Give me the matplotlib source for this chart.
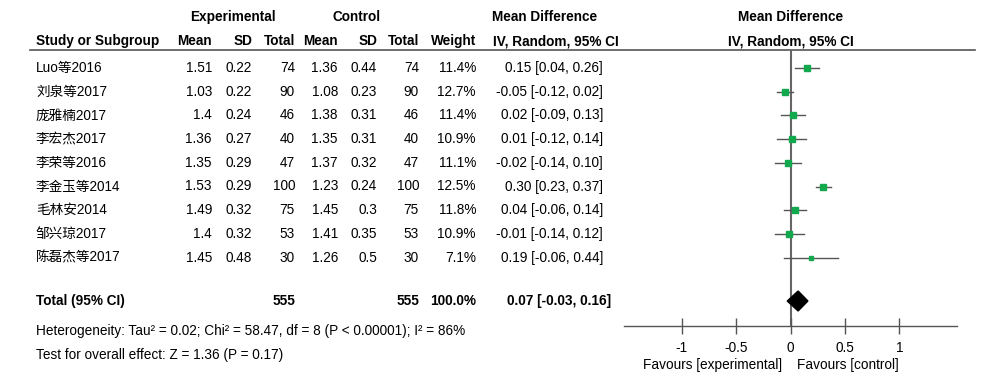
import matplotlib
matplotlib.use("Agg")
import matplotlib.pyplot as plt

plt.rcParams['font.family'] = ['Liberation Sans', 'Noto Sans CJK SC']
plt.rcParams['font.size'] = 9.8

# data
studies = ['Luo等2016', '刘泉等2017', '庞雅楠2017', '李宏杰2017', '李荣等2016',
           '李金玉等2014', '毛林安2014', '邹兴琼2017', '陈磊杰等2017']
exp_mean = ['1.51', '1.03', '1.4', '1.36', '1.35', '1.53', '1.49', '1.4', '1.45']
exp_sd = ['0.22', '0.22', '0.24', '0.27', '0.29', '0.29', '0.32', '0.32', '0.48']
exp_n = [74, 90, 46, 40, 47, 100, 75, 53, 30]
ctl_mean = ['1.36', '1.08', '1.38', '1.35', '1.37', '1.23', '1.45', '1.41', '1.26']
ctl_sd = ['0.44', '0.23', '0.31', '0.31', '0.32', '0.24', '0.3', '0.35', '0.5']
ctl_n = [74, 90, 46, 40, 47, 100, 75, 53, 30]
weight = [11.4, 12.7, 11.4, 10.9, 11.1, 12.5, 11.8, 10.9, 7.1]
md = [0.15, -0.05, 0.02, 0.01, -0.02, 0.30, 0.04, -0.01, 0.19]
lo = [0.04, -0.12, -0.09, -0.12, -0.14, 0.23, -0.06, -0.14, -0.06]
hi = [0.26, 0.02, 0.13, 0.14, 0.10, 0.37, 0.14, 0.12, 0.44]
total_n = [555, 555]
total_weight = '100.0%'
total_md, total_lo, total_hi = 0.07, -0.03, 0.16
ticks = [-1, -0.5, 0, 0.5, 1]

W, H = 1000, 378
fig = plt.figure(figsize=(10, 3.78), dpi=100)

# text layer in pixel coords
ax = fig.add_axes([0, 0, 1, 1])
ax.set_xlim(0, W)
ax.set_ylim(H, 0)
ax.axis('off')

row0, step = 68, 23.7
def ry(i):
    return row0 + step * i

bold = dict(fontweight='bold', va='center')
ax.text(233, 17, 'Experimental', ha='center', **bold)
ax.text(357, 17, 'Control', ha='center', **bold)
ax.text(545, 17, 'Mean Difference', ha='center', **bold)
ax.text(791, 17, 'Mean Difference', ha='center', **bold)

hy = 41
ax.text(36, hy, 'Study or Subgroup', ha='left', **bold)
cols = [212, 252, 295, 338, 377, 419, 476]
for x, s in zip(cols, ['Mean', 'SD', 'Total', 'Mean', 'SD', 'Total', 'Weight']):
    ax.text(x, hy, s, ha='right', **bold)
ax.text(493, hy, 'IV, Random, 95% CI', ha='left', **bold)
ax.text(791, hy, 'IV, Random, 95% CI', ha='center', **bold)
ax.plot([30, 975], [50, 50], color='#555555', lw=1.2)

for i, name in enumerate(studies):
    y = ry(i)
    ax.text(36, y, name, ha='left', va='center')
    vals = [exp_mean[i], exp_sd[i], str(exp_n[i]), ctl_mean[i], ctl_sd[i],
            str(ctl_n[i]), f'{weight[i]:.1f}%']
    for x, s in zip(cols, vals):
        ax.text(x, y, s, ha='right', va='center')
    ax.text(603, y, f'{md[i]:.2f} [{lo[i]:.2f}, {hi[i]:.2f}]', ha='right', va='center')

ty = 301
ax.text(36, ty, 'Total (95% CI)', ha='left', **bold)
ax.text(295, ty, str(total_n[0]), ha='right', **bold)
ax.text(419, ty, str(total_n[1]), ha='right', **bold)
ax.text(476, ty, total_weight, ha='right', **bold)
ax.text(611, ty, f'{total_md:.2f} [{total_lo:.2f}, {total_hi:.2f}]', ha='right', **bold)

ax.text(36, 331, 'Heterogeneity: Tau² = 0.02; Chi² = 58.47, df = 8 (P < 0.00001); I² = 86%',
        ha='left', va='center')
ax.text(36, 355, 'Test for overall effect: Z = 1.36 (P = 0.17)', ha='left', va='center')

# forest panel
x0, x1 = 624, 957
y_top, y_ax = 50, 326
fx = fig.add_axes([x0 / W, 1 - y_ax / H, (x1 - x0) / W, (y_ax - y_top) / H])
fx.set_xlim(-1.53, 1.53)
fx.set_ylim(y_ax, y_top)
fx.patch.set_alpha(0)
for s in ['top', 'left', 'right']:
    fx.spines[s].set_visible(False)
fx.spines['bottom'].set_color('#555555')
fx.spines['bottom'].set_linewidth(1.0)
fx.set_yticks([])
fx.set_xticks(ticks)
fx.set_xticklabels(['-1', '-0.5', '0', '0.5', '1'])
fx.tick_params(axis='x', direction='inout', length=12, width=1.0, color='#555555', pad=5)
fx.axvline(0, color='#666666', lw=1.5, zorder=1)

for i in range(len(studies)):
    y = ry(i)
    fx.plot([lo[i], hi[i]], [y, y], color='#555555', lw=1.0, zorder=2)
    fx.plot(md[i], y, marker='s', ms=1.3 * weight[i] ** 0.5, color='#12a84e',
            mec='#12a84e', zorder=3)

dh = 10
fx.fill([total_lo, total_md, total_hi, total_md], [ty, ty - dh, ty, ty + dh],
        color='black', zorder=3)

ax.text(782, 365, 'Favours [experimental]', ha='right', va='center')
ax.text(797, 365, 'Favours [control]', ha='left', va='center')

fig.savefig('out.png', dpi=100)
